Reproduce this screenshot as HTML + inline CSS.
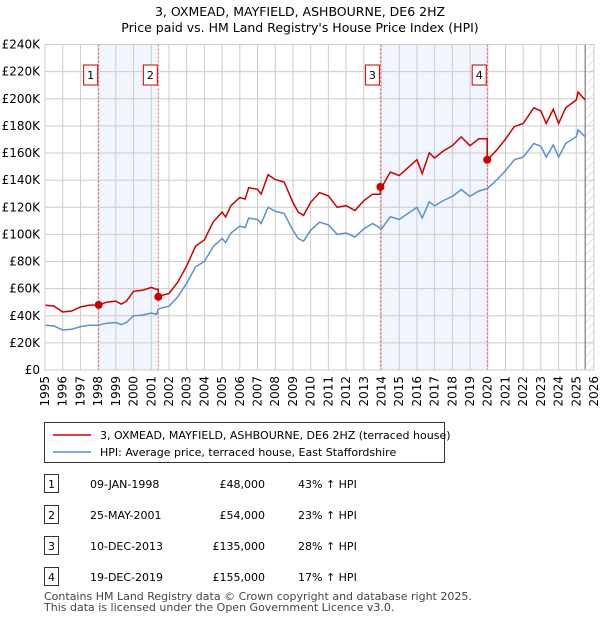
<!DOCTYPE html>
<html><head><meta charset="utf-8"><style>
body{margin:0;background:#fff;font-family:"Liberation Sans","DejaVu Sans",sans-serif;}
svg text{font-family:"DejaVu Sans","Liberation Sans",sans-serif;}
</style></head><body>
<svg id="c" width="600" height="620" xmlns="http://www.w3.org/2000/svg">
<text x="300" y="16" text-anchor="middle" font-size="12.5">3, OXMEAD, MAYFIELD, ASHBOURNE, DE6 2HZ</text>
<text x="300" y="32" text-anchor="middle" font-size="12.5">Price paid vs. HM Land Registry's House Price Index (HPI)</text>
<defs><pattern id="hatch" width="6" height="6" patternUnits="userSpaceOnUse" patternTransform="rotate(45)"><line x1="0" y1="0" x2="0" y2="6" stroke="#ccc" stroke-width="1"/></pattern></defs>
<g id="plot"></g>
<g>
<rect x="44.5" y="422.5" width="400" height="40" fill="#fff" stroke="#333"/>
<line x1="53" y1="435" x2="91" y2="435" stroke="#cc0000" stroke-width="1.5"/>
<text x="100" y="439" font-size="11">3, OXMEAD, MAYFIELD, ASHBOURNE, DE6 2HZ (terraced house)</text>
<line x1="53" y1="452" x2="91" y2="452" stroke="#5b8fd1" stroke-width="1.5"/>
<text x="100" y="456" font-size="11">HPI: Average price, terraced house, East Staffordshire</text>
</g>
<g id="tbl" font-size="11"></g>
<text x="44" y="600" font-size="11" fill="#444">Contains HM Land Registry data © Crown copyright and database right 2025.</text>
<text x="44" y="611" font-size="11" fill="#444">This data is licensed under the Open Government Licence v3.0.</text>
</svg>
<script>
const hpiYears=[1995,1995.5,1996,1996.5,1997,1997.5,1998,1998.5,1999,1999.3,1999.6,2000,2000.5,2001,2001.3,2001.4,2001.5,2002,2002.5,2003,2003.5,2004,2004.5,2005,2005.2,2005.5,2006,2006.3,2006.5,2007,2007.2,2007.6,2008,2008.5,2009,2009.3,2009.6,2010,2010.5,2011,2011.5,2012,2012.5,2013,2013.5,2014,2014.5,2015,2016,2016.3,2016.7,2017,2017.5,2018,2018.5,2019,2019.5,2020,2020.5,2021,2021.5,2022,2022.6,2023,2023.3,2023.7,2024,2024.4,2025,2025.1,2025.5];
const hpiValues=[33,32.5,29.5,30,32,33,33,34.5,35,33.5,35,40,40.5,42,41,45,45.5,47,54,64,76,80,91,97,94,101,106,105,112,111,108,120,117,115.5,103,97,95,103,109,107,100,101,98,104,108,104,113,111,120,112,124,121,125,128,133,128,132,134,140,147,155,157,167,165,157,166,157,167,172,177,172];
const saleLabels=["1","2","3","4"];
const saleDates=["09-JAN-1998","25-MAY-2001","10-DEC-2013","19-DEC-2019"];
const saleYears=[1998.03,2001.40,2013.94,2019.97];
const salePrices=[48000,54000,135000,155000];
const salePct=["43% ↑ HPI","23% ↑ HPI","28% ↑ HPI","17% ↑ HPI"];
const yTicks=[0,20,40,60,80,100,120,140,160,180,200,220,240];
const xTicks=[1995,1996,1997,1998,1999,2000,2001,2002,2003,2004,2005,2006,2007,2008,2009,2010,2011,2012,2013,2014,2015,2016,2017,2018,2019,2020,2021,2022,2023,2024,2025,2026];

const L=45,R=594,T=44.5,B=370;
const X=y=>L+(y-1995)/(2026-1995)*(R-L);
const Y=v=>B-v/240*(B-T);
const NS="http://www.w3.org/2000/svg";
const plot=document.getElementById('plot');
function mk(tag,at,parent){const e=document.createElementNS(NS,tag);for(const k in at)e.setAttribute(k,at[k]);(parent||plot).appendChild(e);return e;}
function hpiAt(t){for(let i=0;i<hpiYears.length-1;i++){if(t>=hpiYears[i]&&t<=hpiYears[i+1]){const f=(t-hpiYears[i])/(hpiYears[i+1]-hpiYears[i]);return hpiValues[i]+f*(hpiValues[i+1]-hpiValues[i]);}}return hpiValues[hpiValues.length-1];}
function hpiBefore(t){let v=hpiValues[0];for(let i=0;i<hpiYears.length;i++)if(hpiYears[i]<t)v=hpiValues[i];return v;}

for(const [a,b] of [[0,1],[2,3]]){
const r=mk('rect',{x:X(saleYears[a]),y:T,width:X(saleYears[b])-X(saleYears[a]),height:B-T,fill:'#eef3fc',opacity:0.8});


}
const h=mk('rect',{x:X(2025.5),y:T,width:R-X(2025.5),height:B-T,fill:'url(#hatch)'});


for(const v of yTicks){
mk('line',{x1:L,x2:R,y1:Y(v),y2:Y(v),stroke:'#ccc'});
const t=mk('text',{x:40,y:Y(v)+4,'text-anchor':'end','font-size':12});
t.textContent=v===0?'£0':'£'+v+'K';


}
for(const yr of xTicks){
mk('line',{x1:X(yr),x2:X(yr),y1:T,y2:B,stroke:'#ccc'});
const t=mk('text',{transform:`translate(${X(yr)+4},${B+6}) rotate(-90)`,'text-anchor':'end','font-size':12});
t.textContent=yr;


}
mk('line',{x1:X(2025.5),x2:X(2025.5),y1:T,y2:B,stroke:'#666'});
saleYears.forEach((s,i)=>{
mk('line',{x1:X(s),x2:X(s),y1:T,y2:B,stroke:'#e55','stroke-dasharray':'2,2','stroke-width':1});
const bx=mk('rect',{x:X(s)-18+3,y:65,width:14,height:20,fill:'#fff',stroke:'#c00'});


const t=mk('text',{x:X(s)-8,y:79,'text-anchor':'middle','font-size':11});
t.textContent=saleLabels[i];
});
let d='';hpiYears.forEach((yr,i)=>{d+=(i?'L':'M')+X(yr).toFixed(1)+','+Y(hpiValues[i]).toFixed(1);});
const hl=mk('path',{d,fill:'none',stroke:'#5b8fd1','stroke-width':1.5});


function ratioAt(t){let k=0;for(let i=0;i<saleYears.length;i++)if(t>=saleYears[i])k=i;return salePrices[k]/1000/hpiAt(saleYears[k]);}
const pts=[...hpiYears,...saleYears].sort((a,b)=>a-b);
let d2='';
pts.forEach((yr,i)=>{
const si=saleYears.indexOf(yr);
if(si>0){const prev=hpiBefore(yr)*salePrices[si-1]/1000/hpiAt(saleYears[si-1]);d2+='L'+X(yr).toFixed(1)+','+Y(prev).toFixed(1);}
d2+=(i?'L':'M')+X(yr).toFixed(1)+','+Y(hpiAt(yr)*ratioAt(yr)).toFixed(1);
});
const pl=mk('path',{d:d2,fill:'none',stroke:'#cc0000','stroke-width':1.5});


saleYears.forEach((s,i)=>{
const c=mk('circle',{cx:X(s),cy:Y(salePrices[i]/1000),r:4,fill:'#cc0000'});


});
mk('rect',{x:L,y:T,width:R-L,height:B-T,fill:'none',stroke:'#ccc'});
const tbl=document.getElementById('tbl');
saleYears.forEach((s,i)=>{
const y=487+i*31;
const b=mk('rect',{x:44.5,y:y-12.5,width:14,height:18,fill:'#fff',stroke:'#333'},tbl);


const n=mk('text',{x:51.5,y:y+1,'text-anchor':'middle'},tbl);n.textContent=saleLabels[i];
const dt=mk('text',{x:90,y:y+1},tbl);dt.textContent=saleDates[i];


const p=mk('text',{x:265,y:y+1,'text-anchor':'end'},tbl);p.textContent='£'+salePrices[i].toLocaleString('en-GB');


const pc=mk('text',{x:298,y:y+1},tbl);pc.textContent=salePct[i];


});
</script>
</body></html>
